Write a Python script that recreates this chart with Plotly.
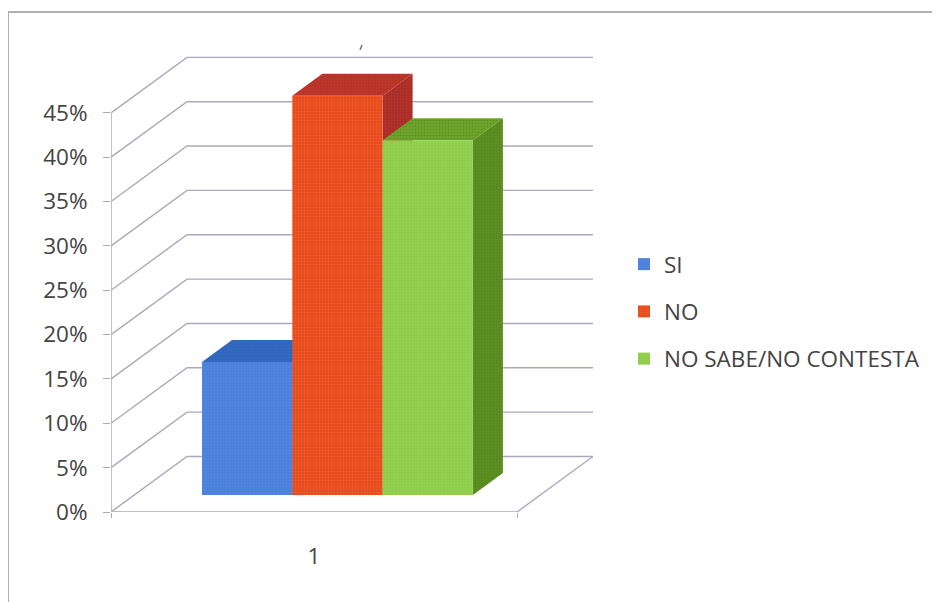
import plotly.graph_objects as go

# Data
categories = ["1"]
series_names = ["SI", "NO", "NO SABE/NO CONTESTA"]
series_values = [15, 45, 40]
y_ticks = [0, 5, 10, 15, 20, 25, 30, 35, 40, 45]
y_labels = [f"{v}%" for v in y_ticks]

# Colours
front_colors = ["#4a80dc", "#e64a1e", "#8ccb48"]
top_colors = ["#2f66bd", "#b8322a", "#6ea62c"]
side_colors = ["#2f66bd", "#a82c28", "#5c9022"]
speck_colors = ["#5c90e6", "#f77034", "#a2dc64"]
dark_speck = ["#3f70c8", "#c8402a", "#4c7c18"]
grid_color = "#a9a9bb"
text_color = "#444444"

# Layout geometry (page pixels); the page body has an 8 px margin
PAGE = 8
W, H = 940 - PAGE, 602 - PAGE
L, R, T, B = 111, 593, 56, 512
PX_PER_UNIT_Y = 8.87
PX_PER_CAT = 406
WALL_DX, WALL_DY = 76 / PX_PER_CAT, 55.5 / PX_PER_UNIT_Y
BAR_W = 90.3 / PX_PER_CAT
BAR_DX, BAR_DY = 30 / PX_PER_CAT, 22 / PX_PER_UNIT_Y
FLOOR_DY = 17 / PX_PER_UNIT_Y
X0 = 0.5
FIRST_BAR_LEFT = X0 + 91 / PX_PER_CAT


def px(x):
    return (x - L) / (R - L)


def py(y):
    return (B - y) / (B - T)


fig = go.Figure()


def line(xs, ys):
    fig.add_trace(go.Scatter(x=xs, y=ys, mode="lines", showlegend=False, hoverinfo="skip",
                             line=dict(color=grid_color, width=1.4), cliponaxis=False))


# Walls and gridlines
x_end = X0 + 1
for v in y_ticks:
    line([X0, X0 + WALL_DX, x_end + WALL_DX], [v, v + WALL_DY, v + WALL_DY])
line([X0, X0], [0, y_ticks[-1]])
line([X0, x_end], [0, 0])
line([x_end, x_end + WALL_DX], [0, WALL_DY])


def face(xs, ys, color, speck):
    fig.add_trace(go.Scatter(x=xs, y=ys, mode="lines", fill="toself", fillcolor=color,
                             line=dict(width=0, color=color), showlegend=False, hoverinfo="skip",
                             fillpattern=dict(shape=".", fgcolor=speck, bgcolor=color,
                                              size=3, solidity=0.35)))


lefts = [FIRST_BAR_LEFT + i * BAR_W for i in range(len(series_values))]

# Top and side faces, back to front
for i in [1, 0, 2]:
    v = series_values[i]
    x0, x1 = lefts[i], lefts[i] + BAR_W
    b = FLOOR_DY
    t = b + v
    face([x0, x0 + BAR_DX, x1 + BAR_DX, x1], [t, t + BAR_DY, t + BAR_DY, t], top_colors[i], dark_speck[i])
    face([x1, x1 + BAR_DX, x1 + BAR_DX, x1], [b, b + BAR_DY, t + BAR_DY, t], side_colors[i], dark_speck[i])

# Front faces
for i, name in enumerate(series_names):
    fig.add_trace(go.Bar(
        x=[lefts[i] + BAR_W / 2], y=[series_values[i]], base=FLOOR_DY, width=BAR_W,
        name=name, xaxis="x2", yaxis="y2", legendgroup=name,
        marker=dict(color=front_colors[i], line=dict(width=0),
                    pattern=dict(shape=".", fgcolor=speck_colors[i], bgcolor=front_colors[i],
                                 size=3, solidity=0.35)),
    ))

x_range = [X0, X0 + (R - L) / PX_PER_CAT]
y_range = [0, (B - T) / PX_PER_UNIT_Y]
font = dict(family="Open Sans", size=22.5, color=text_color)

fig.update_layout(
    width=W, height=H, autosize=False,
    margin=dict(l=L - PAGE, r=W + PAGE - R, t=T - PAGE, b=H + PAGE - B, pad=0),
    paper_bgcolor="white", plot_bgcolor="white",
    barmode="overlay", font=font,
    xaxis=dict(range=x_range, tickvals=[1], ticktext=categories, showgrid=False, zeroline=False,
               showline=False, ticks="", ticklabelstandoff=28, tickfont=font,
               minor=dict(tickvals=[X0, x_end], ticks="outside", ticklen=5, tickcolor=grid_color, tickwidth=1.4)),
    yaxis=dict(range=y_range, tickvals=y_ticks, ticktext=y_labels, showgrid=False, zeroline=False,
               showline=False, ticks="outside", ticklen=7, tickcolor=grid_color, tickwidth=1.4,
               ticklabelstandoff=11, tickfont=font),
    xaxis2=dict(range=x_range, overlaying="x", visible=False),
    yaxis2=dict(range=y_range, overlaying="y", visible=False),
    legend=dict(x=px(624), y=py(243), xanchor="left", yanchor="top", tracegroupgap=15,
                font=font, bgcolor="rgba(0,0,0,0)"),
    shapes=[
        dict(type="line", xref="paper", yref="paper", x0=px(8), x1=px(940), y0=py(12), y1=py(12),
             line=dict(color="#b0b0b0", width=2)),
        dict(type="line", xref="paper", yref="paper", x0=px(8), x1=px(8), y0=py(12), y1=py(602),
             line=dict(color="#b0b0b0", width=2)),
        dict(type="line", xref="paper", yref="paper", x0=px(360), x1=px(362), y0=py(50), y1=py(45),
             line=dict(color="#777777", width=1.5)),
    ],
)

fig.write_html("out.html")
